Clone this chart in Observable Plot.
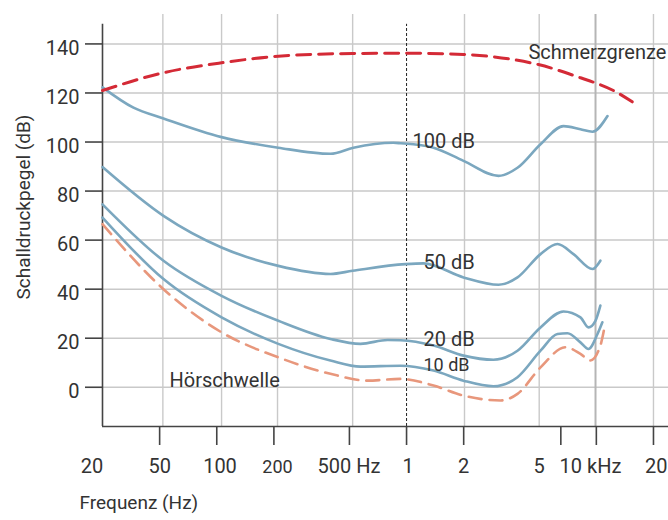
<!DOCTYPE html>
<html><head><meta charset="utf-8">
<script src="https://cdn.jsdelivr.net/npm/d3@7"></script>
<script src="https://cdn.jsdelivr.net/npm/@observablehq/plot@0.6"></script>
<style>body{margin:0;background:#fff} #chart svg{display:block}</style>
</head><body><div id="chart"></div>
<script>
// ---- data ----
const yTicks = [0, 20, 40, 60, 80, 100, 120, 140];
const gridFreqs = [52, 106, 209, 520, 2020, 5000, 9900, 20000];
const tickFreqs = [50, 100, 200, 500, 1000, 2000, 6500, 10000, 20000];
const xLabelText = ["20", "50", "100", "200", "500 Hz", "1", "2", "5", "10 kHz", "20"];
const xLabelFreq = [22, 50, 104, 209, 497, 1020, 2000, 5000, 9310, 20700];

const painFreq = [25, 52, 106, 211, 520, 990, 2000, 3660, 4950, 8250, 9890, 12300, 16500];
const painDb   = [121, 128.2, 132.3, 135, 136.1, 136.2, 135.7, 133.6, 131.6, 126.2, 124.1, 121.0, 114.9];

const c100Freq = [25, 36.4, 52.4, 106, 211, 397, 525, 853, 930, 1387, 1995, 3052, 3842, 5080, 6713, 8245, 9540, 11450];
const c100Db   = [122.3, 114.0, 109.6, 102.0, 97.7, 95.2, 97.7, 99.7, 99.5, 97.7, 92.3, 86.2, 89.5, 99.1, 106.5, 105.2, 104.2, 110.6];

const c50Freq = [25, 52.4, 106, 211, 397, 519, 988, 1228, 1995, 3052, 3842, 5080, 6240, 7580, 9540, 10500];
const c50Db   = [89.8, 69.9, 57.0, 49.5, 46.2, 47.5, 50.2, 50.5, 44.8, 41.8, 44.8, 54.3, 58.4, 54.3, 48.2, 51.6];

const c20Freq = [25, 52.4, 106, 211, 397, 572, 794, 930, 1387, 1995, 2870, 3842, 5080, 6713, 8245, 9090, 9890, 10500];
const c20Db   = [74.6, 51.6, 37.3, 27.1, 19.7, 17.7, 19.3, 19.2, 17.0, 12.9, 11.2, 14.9, 24.4, 30.9, 28.5, 24.4, 27.1, 33.3];

const c10Freq = [25, 52.4, 106, 211, 397, 572, 930, 1387, 1995, 2870, 3842, 5080, 6240, 7045, 8245, 9090, 10140, 10760];
const c10Db   = [69.2, 44.1, 28.5, 17.7, 10.9, 8.4, 8.8, 6.8, 2.7, 0.4, 4.1, 14.9, 21.7, 22.0, 18.3, 15.6, 21.7, 26.5];

const thrFreq = [25, 52.4, 106, 211, 397, 622, 930, 1387, 1995, 3125, 3842, 5080, 6880, 8245, 9310, 10500, 11040];
const thrDb   = [66.5, 40.0, 22.4, 12.2, 5.5, 2.7, 3.4, 0.7, -3.4, -5.4, -2.7, 8.1, 16.3, 13.6, 10.9, 17.0, 24.4];

const curveLabelText = ["Schmerzgrenze", "100 dB", "50 dB", "20 dB", "10 dB", "Hörschwelle"];
const curveLabelFreq = [4390, 1075, 1228, 1228, 1228, 56.4];
const curveLabelDb   = [136.4, 100.3, 50.8, 19.6, 8.9, 2.6];

// ---- helpers ----
const series = (f, v) => f.map((x, i) => ({f: x, db: v[i]}));
const BLUE = "#7ba7bf", RED = "#d42a36", SALMON = "#e8977c", GRID = "#c9c9c9", INK = "#333";
const curveLabels = curveLabelText.map((t, i) => ({t, f: curveLabelFreq[i], db: curveLabelDb[i], small: t === "10 dB"}));
const xLabels = xLabelText.map((t, i) => ({t, f: xLabelFreq[i]}));

const chart = Plot.plot({
  width: 668, height: 520,
  marginLeft: 102, marginRight: 0, marginTop: 14, marginBottom: 94,
  style: {fontFamily: "Roboto, sans-serif", background: "#fff", color: INK},
  x: {type: "log", domain: [25, 24000], axis: null},
  y: {domain: [-16, 152], axis: null},
  marks: [
    Plot.ruleY(yTicks, {stroke: GRID, strokeWidth: 1.5}),
    Plot.ruleX(gridFreqs, {stroke: d => d === 9900 ? "#b5b5b5" : GRID, strokeWidth: d => d === 9900 ? 2 : 1.4}),
    Plot.ruleX([1000], {y1: -16, y2: 148, stroke: "#222", strokeWidth: 1, strokeDasharray: "3,2"}),
    Plot.ruleX([25], {y1: -16, y2: 148, stroke: "#444", strokeWidth: 1.6}),
    Plot.ruleY([-16], {stroke: "#444", strokeWidth: 1.6}),
    Plot.axisY(yTicks, {anchor: "left", tickSize: 17, tickFormat: () => "", strokeWidth: 1.6, stroke: "#444", label: null}),
    Plot.text(yTicks, {y: d => d, text: d => String(d), frameAnchor: "left", textAnchor: "end", dx: -23, dy: 4.5, fontSize: 20, fill: INK}),
    Plot.axisX(tickFreqs, {anchor: "bottom", tickSize: 19, tickFormat: () => "", strokeWidth: 1.6, stroke: "#444", label: null}),
    Plot.text(xLabels, {x: "f", text: "t", frameAnchor: "bottom", dy: 46, fontSize: d => d.t === "200" ? 18 : 20, fill: INK}),
    Plot.text(["Frequenz (Hz)"], {frameAnchor: "bottom-left", textAnchor: "start", dx: -23, dy: 82, fontSize: 19, fill: INK}),
    Plot.text(["Schalldruckpegel (dB)"], {frameAnchor: "left", rotate: -90, dx: -79, dy: 79, fontSize: 19, fill: INK}),
    Plot.line(series(thrFreq, thrDb), {x: "f", y: "db", curve: "monotone-x", stroke: SALMON, strokeWidth: 2.6, strokeDasharray: "13,8"}),
    Plot.line(series(c10Freq, c10Db), {x: "f", y: "db", curve: "monotone-x", stroke: BLUE, strokeWidth: 2.6}),
    Plot.line(series(c20Freq, c20Db), {x: "f", y: "db", curve: "monotone-x", stroke: BLUE, strokeWidth: 2.6}),
    Plot.line(series(c50Freq, c50Db), {x: "f", y: "db", curve: "monotone-x", stroke: BLUE, strokeWidth: 2.6}),
    Plot.line(series(c100Freq, c100Db), {x: "f", y: "db", curve: "monotone-x", stroke: BLUE, strokeWidth: 2.6}),
    Plot.line(series(painFreq, painDb), {x: "f", y: "db", curve: "monotone-x", stroke: RED, strokeWidth: 3, strokeDasharray: "14,8"}),
    Plot.text(curveLabels, {x: "f", y: "db", text: "t", textAnchor: "start", fontSize: d => d.small ? 18 : 20, fill: INK})
  ]
});
document.getElementById("chart").appendChild(chart);
</script>
</body></html>
